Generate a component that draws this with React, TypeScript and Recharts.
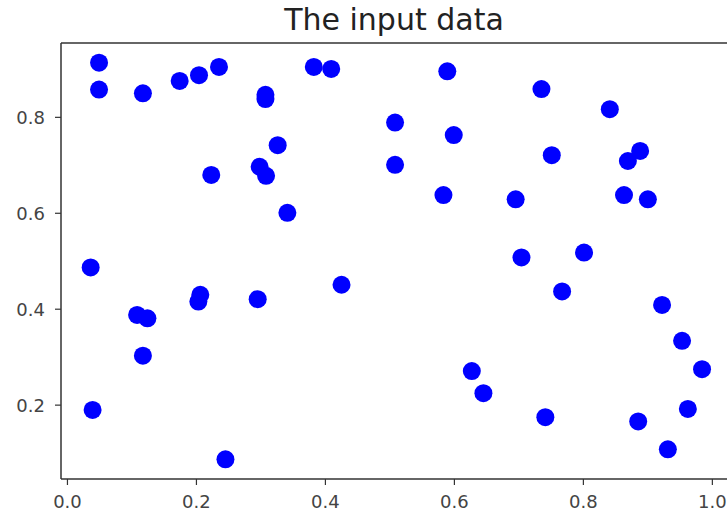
import { Scatter, ScatterChart, XAxis, YAxis, ReferenceLine } from "recharts"

const xs = [
  0.049, 0.049, 0.117, 0.174, 0.204, 0.235, 0.223, 0.036, 0.206, 0.203,
  0.108, 0.124, 0.117, 0.039, 0.245, 0.382, 0.409, 0.589, 0.307, 0.307,
  0.508, 0.599, 0.326, 0.298, 0.308, 0.508, 0.583, 0.341, 0.295, 0.425,
  0.627, 0.645, 0.735, 0.841, 0.751, 0.888, 0.869, 0.695, 0.863, 0.9,
  0.704, 0.801, 0.767, 0.922, 0.953, 0.984, 0.962, 0.885, 0.931, 0.741,
]
const ys = [
  0.914, 0.858, 0.85, 0.876, 0.888, 0.905, 0.68, 0.487, 0.43, 0.416,
  0.388, 0.381, 0.303, 0.19, 0.087, 0.905, 0.901, 0.896, 0.847, 0.838,
  0.789, 0.763, 0.742, 0.697, 0.678, 0.701, 0.638, 0.601, 0.421, 0.451,
  0.271, 0.225, 0.859, 0.817, 0.721, 0.73, 0.709, 0.629, 0.638, 0.629,
  0.508, 0.518, 0.437, 0.409, 0.334, 0.275, 0.192, 0.166, 0.108, 0.175,
]
const xTicks = [0, 0.2, 0.4, 0.6, 0.8, 1.0]
const yTicks = [0.2, 0.4, 0.6, 0.8]
const xDomain = [-0.01, 1.032]
const yDomain = [0.046, 0.955]

const points = xs.map((x, i) => ({ x, y: ys[i] }))

const spine = "#333"
const tickStyle = { fill: "#444", fontSize: 18, fontFamily: "DejaVu Sans" }

export default function App() {
  return (
    <div
      style={{
        position: "fixed",
        left: 0,
        top: 0,
        width: 727,
        height: 517,
        overflow: "hidden",
        background: "#fff",
      }}
    >
      <div
        style={{
          position: "absolute",
          left: 194,
          top: 5,
          width: 400,
          textAlign: "center",
          fontFamily: "DejaVu Sans",
          fontSize: 30,
          lineHeight: "30px",
          color: "#222",
        }}
      >
        The input data
      </div>
      <ScatterChart
        width={745}
        height={517}
        margin={{ top: 43, right: 12, bottom: 0, left: 0 }}
      >
        <XAxis
          type="number"
          dataKey="x"
          domain={xDomain}
          ticks={xTicks}
          tickFormatter={(v) => v.toFixed(1)}
          height={38}
          tickSize={6}
          tickMargin={10}
          tick={tickStyle}
          stroke={spine}
          axisLine={{ stroke: spine, strokeWidth: 1.5 }}
          tickLine={{ stroke: spine, strokeWidth: 1.2 }}
          allowDataOverflow
        />
        <YAxis
          type="number"
          dataKey="y"
          domain={yDomain}
          ticks={yTicks}
          tickFormatter={(v) => v.toFixed(1)}
          width={61}
          tickSize={6}
          tickMargin={10}
          tick={tickStyle}
          stroke={spine}
          axisLine={{ stroke: spine, strokeWidth: 1.5 }}
          tickLine={{ stroke: spine, strokeWidth: 1.2 }}
          allowDataOverflow
        />
        <ReferenceLine y={yDomain[1]} stroke={spine} strokeWidth={1.5} />
        <ReferenceLine x={xDomain[1]} stroke={spine} strokeWidth={1.5} />
        <Scatter
          data={points}
          isAnimationActive={false}
          shape={(p: any) => <circle cx={p.cx} cy={p.cy} r={9} fill="#0000ff" />}
        />
      </ScatterChart>
    </div>
  )
}
